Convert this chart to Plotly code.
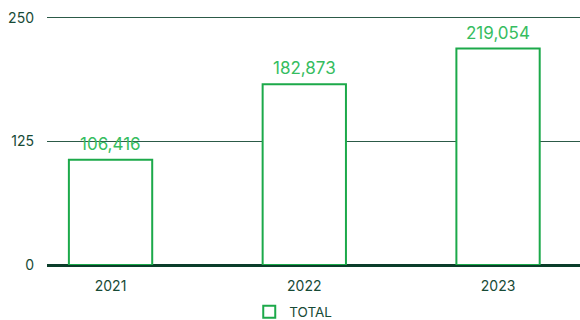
import plotly.graph_objects as go

# Yearly totals
years = ["2021", "2022", "2023"]
totals = [106416, 182873, 219054]
value_labels = ["106,416", "182,873", "219,054"]

# Y axis ticks (shown in thousands)
y_tick_vals = [0, 125000, 250000]
y_tick_text = ["0", "125", "250"]

GREEN = "#1ca94a"
TEXT_GREEN = "#36bd60"
DARK = "#174a36"

fig = go.Figure()
fig.add_trace(go.Bar(
    x=years,
    y=totals,
    name="TOTAL",
    width=0.43,
    marker=dict(color="white", line=dict(color=GREEN, width=2)),
    hoverinfo="skip",
))

# value labels above each bar (category index used for x)
for i, (v, lab) in enumerate(zip(totals, value_labels)):
    fig.add_annotation(
        x=i, y=v, xref="x", yref="y", text=lab, showarrow=False,
        yanchor="bottom", yshift=4,
        font=dict(family="Inter", size=17, color=TEXT_GREEN),
    )

fig.update_layout(
    width=580, height=320,
    margin=dict(l=47, r=0, t=14, b=55, autoexpand=False),
    paper_bgcolor="white", plot_bgcolor="white",
    font=dict(family="Inter", color=DARK, size=13),
    showlegend=True,
    legend=dict(
        orientation="h", x=0.462, xanchor="center",
        yref="container", y=0.025, yanchor="middle",
        font=dict(family="Inter", size=13.5, color=DARK),
        itemwidth=30,
    ),
    xaxis=dict(
        type="category",
        range=[-0.328, 2.423],
        showgrid=False,
        showline=False,
        ticks="",
        ticklabelstandoff=11,
        tickfont=dict(family="Inter", size=14, color=DARK),
    ),
    yaxis=dict(
        range=[0, 254000],
        tickvals=y_tick_vals,
        ticktext=y_tick_text,
        showgrid=True,
        gridcolor="#2c5a47",
        gridwidth=1,
        zeroline=True,
        zerolinecolor="#0b3d2a",
        zerolinewidth=3,
        ticklabelstandoff=12,
        tickfont=dict(family="Inter", size=14, color=DARK),
    ),
)

fig.write_html("out.html")
